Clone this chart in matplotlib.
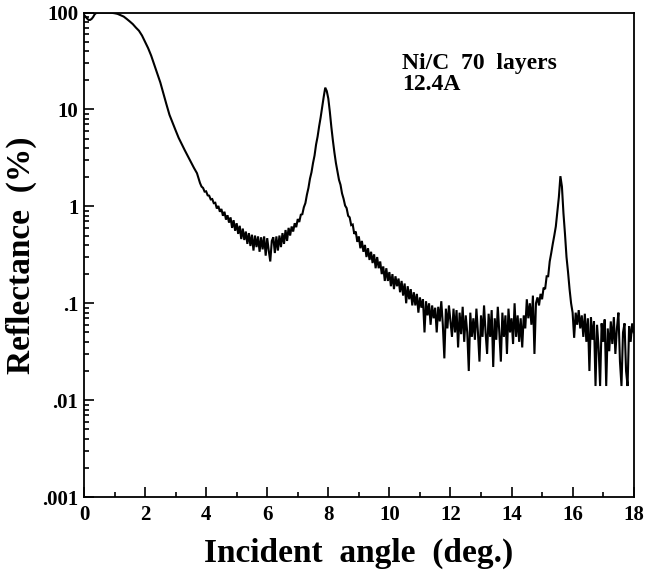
import matplotlib
matplotlib.use("Agg")
import matplotlib.pyplot as plt
from matplotlib.ticker import FixedLocator, FixedFormatter, LogLocator, NullFormatter, MultipleLocator

# ── data ─────────────────────────────────────────────────────────────────────
# total-reflection region and critical-angle fall-off (smooth part)
ANGLE_SMOOTH = [0.0, 0.05, 0.1, 0.15, 0.2, 0.25, 0.3, 0.35, 0.4, 0.5,
                0.6, 0.7, 0.8, 0.9, 1.0, 1.1, 1.2, 1.3, 1.4, 1.5,
                1.6, 1.7, 1.8, 1.9, 2.0, 2.1, 2.2, 2.3, 2.4, 2.5,
                2.6, 2.7, 2.8, 2.9, 3.0, 3.1, 3.2, 3.3, 3.4, 3.5,
                3.6, 3.7, 3.75]
REFL_SMOOTH = [95, 91, 87, 84, 84, 86, 90, 96, 99, 100,
               100, 100, 100, 99.5, 98.5, 97, 94, 91, 86, 81,
               76, 70, 65, 58, 50, 43, 36, 29, 23.5, 19,
               14.6, 11.3, 8.8, 7.3, 6.1, 5.1, 4.4, 3.8, 3.3, 2.85,
               2.5, 2.2, 1.95]

# noisy part of the scan: Bragg peaks and background
ANGLE_SCAN = [
    3.80, 3.85, 3.90, 3.95, 4.00, 4.05, 4.10, 4.15, 4.20, 4.25,
    4.30, 4.35, 4.40, 4.45, 4.50, 4.55, 4.60, 4.65, 4.70, 4.75,
    4.80, 4.85, 4.90, 4.95, 5.00, 5.05, 5.10, 5.15, 5.20, 5.25,
    5.30, 5.35, 5.40, 5.45, 5.50, 5.55, 5.60, 5.65, 5.70, 5.75,
    5.80, 5.85, 5.90, 5.95, 6.00, 6.05, 6.10, 6.15, 6.20, 6.25,
    6.30, 6.35, 6.40, 6.45, 6.50, 6.55, 6.60, 6.65, 6.70, 6.75,
    6.80, 6.85, 6.90, 6.95, 7.00, 7.05, 7.10, 7.15, 7.20, 7.25,
    7.30, 7.35, 7.40, 7.45, 7.50, 7.55, 7.60, 7.65, 7.70, 7.75,
    7.80, 7.85, 7.90, 7.95, 8.00, 8.05, 8.10, 8.15, 8.20, 8.25,
    8.30, 8.35, 8.40, 8.45, 8.50, 8.55, 8.60, 8.65, 8.70, 8.75,
    8.80, 8.85, 8.90, 8.95, 9.00, 9.05, 9.10, 9.15, 9.20, 9.25,
    9.30, 9.35, 9.40, 9.45, 9.50, 9.55, 9.60, 9.65, 9.70, 9.75,
    9.80, 9.85, 9.90, 9.95, 10.00, 10.05, 10.10, 10.15, 10.20, 10.25,
    10.30, 10.35, 10.40, 10.45, 10.50, 10.55, 10.60, 10.65, 10.70, 10.75,
    10.80, 10.85, 10.90, 10.95, 11.00, 11.05, 11.10, 11.15, 11.20, 11.25,
    11.30, 11.35, 11.40, 11.45, 11.50, 11.55, 11.60, 11.65, 11.70, 11.75,
    11.80, 11.85, 11.90, 11.95, 12.00, 12.05, 12.10, 12.15, 12.20, 12.25,
    12.30, 12.35, 12.40, 12.45, 12.50, 12.55, 12.60, 12.65, 12.70, 12.75,
    12.80, 12.85, 12.90, 12.95, 13.00, 13.05, 13.10, 13.15, 13.20, 13.25,
    13.30, 13.35, 13.40, 13.45, 13.50, 13.55, 13.60, 13.65, 13.70, 13.75,
    13.80, 13.85, 13.90, 13.95, 14.00, 14.05, 14.10, 14.15, 14.20, 14.25,
    14.30, 14.35, 14.40, 14.45, 14.50, 14.55, 14.60, 14.65, 14.70, 14.75,
    14.80, 14.85, 14.90, 14.95, 15.00, 15.05, 15.10, 15.15, 15.20, 15.25,
    15.30, 15.35, 15.40, 15.45, 15.50, 15.55, 15.60, 15.65, 15.70, 15.75,
    15.80, 15.85, 15.90, 15.95, 16.00, 16.05, 16.10, 16.15, 16.20, 16.25,
    16.30, 16.35, 16.40, 16.45, 16.50, 16.55, 16.60, 16.65, 16.70, 16.75,
    16.80, 16.85, 16.90, 16.95, 17.00, 17.05, 17.10, 17.15, 17.20, 17.25,
    17.30, 17.35, 17.40, 17.45, 17.50, 17.55, 17.60, 17.65, 17.70, 17.75,
    17.80, 17.85, 17.90, 17.95, 18.00,
]
REFL_SCAN = [
    1.74, 1.60, 1.55, 1.42, 1.43, 1.30, 1.29, 1.18, 1.19, 1.08,
    1.09, 0.95, 1.01, 0.88, 0.94, 0.80, 0.88, 0.73, 0.81, 0.68,
    0.77, 0.60, 0.72, 0.56, 0.67, 0.52, 0.63, 0.46, 0.59, 0.45,
    0.55, 0.41, 0.53, 0.39, 0.51, 0.35, 0.50, 0.38, 0.49, 0.34,
    0.48, 0.36, 0.49, 0.31, 0.47, 0.35, 0.27, 0.44, 0.48, 0.33,
    0.49, 0.35, 0.50, 0.38, 0.53, 0.41, 0.57, 0.44, 0.60, 0.50,
    0.62, 0.55, 0.67, 0.61, 0.74, 0.69, 0.82, 0.83, 0.98, 1.08,
    1.32, 1.55, 1.93, 2.25, 2.80, 3.35, 4.35, 5.25, 6.70, 8.30,
    10.6, 13.5, 16.8, 15.5, 13.0, 9.5, 6.6, 4.8, 3.6, 2.8,
    2.30, 1.88, 1.67, 1.36, 1.20, 1.02, 0.96, 0.80, 0.77, 0.64,
    0.65, 0.52, 0.55, 0.43, 0.49, 0.37, 0.44, 0.34, 0.40, 0.30,
    0.37, 0.28, 0.34, 0.26, 0.32, 0.23, 0.30, 0.23, 0.27, 0.20,
    0.24, 0.17, 0.23, 0.17, 0.21, 0.15, 0.20, 0.14, 0.19, 0.15,
    0.18, 0.13, 0.17, 0.12, 0.16, 0.10, 0.15, 0.11, 0.14, 0.095,
    0.13, 0.095, 0.125, 0.08, 0.115, 0.09, 0.11, 0.05, 0.105, 0.075,
    0.10, 0.06, 0.095, 0.07, 0.09, 0.05, 0.092, 0.065, 0.105, 0.06,
    0.027, 0.088, 0.055, 0.095, 0.065, 0.045, 0.088, 0.05, 0.085, 0.035,
    0.08, 0.048, 0.092, 0.04, 0.075, 0.05, 0.02, 0.08, 0.045, 0.07,
    0.042, 0.088, 0.05, 0.025, 0.075, 0.045, 0.095, 0.05, 0.03, 0.078,
    0.045, 0.085, 0.022, 0.07, 0.042, 0.092, 0.05, 0.025, 0.08, 0.045,
    0.075, 0.03, 0.088, 0.05, 0.07, 0.038, 0.10, 0.045, 0.075, 0.04,
    0.07, 0.035, 0.075, 0.055, 0.11, 0.07, 0.10, 0.06, 0.12, 0.03,
    0.10, 0.115, 0.095, 0.125, 0.11, 0.145, 0.14, 0.19, 0.19, 0.27,
    0.33, 0.41, 0.50, 0.62, 0.88, 1.25, 2.05, 1.60, 0.85, 0.52,
    0.30, 0.21, 0.14, 0.10, 0.08, 0.044, 0.08, 0.06, 0.085, 0.055,
    0.075, 0.045, 0.078, 0.04, 0.07, 0.02, 0.072, 0.042, 0.065, 0.014,
    0.06, 0.035, 0.014, 0.062, 0.04, 0.068, 0.014, 0.055, 0.032, 0.065,
    0.038, 0.072, 0.03, 0.055, 0.08, 0.025, 0.014, 0.05, 0.062, 0.02,
    0.014, 0.058, 0.04, 0.062, 0.05,
]

Y_TICKS  = [0.001, 0.01, 0.1, 1, 10, 100]
Y_LABELS = [".001", ".01", ".1", "1", "10", "100"]
X_TICKS  = [0, 2, 4, 6, 8, 10, 12, 14, 16, 18]
SAMPLE   = "Ni/C  70  layers\n12.4A"

# ── figure ───────────────────────────────────────────────────────────────────
plt.rcParams["font.family"] = ["Liberation Serif", "DejaVu Serif"]
plt.rcParams["font.weight"] = "bold"

fig = plt.figure(figsize=(6.56, 5.72), dpi=100)
ax = fig.add_axes([0.128, 0.131, 0.838, 0.847])

ax.plot(ANGLE_SMOOTH + ANGLE_SCAN, REFL_SMOOTH + REFL_SCAN,
        color="black", lw=1.5, solid_joinstyle="miter")

ax.set_yscale("log")
ax.set_xlim(0, 18)
ax.set_ylim(0.001, 100)

ax.yaxis.set_major_locator(FixedLocator(Y_TICKS))
ax.yaxis.set_major_formatter(FixedFormatter(Y_LABELS))
ax.yaxis.set_minor_locator(LogLocator(base=10, subs=range(2, 10)))
ax.yaxis.set_minor_formatter(NullFormatter())
ax.xaxis.set_major_locator(FixedLocator(X_TICKS))
ax.xaxis.set_minor_locator(MultipleLocator(1))

ax.tick_params(which="both", direction="in", top=False, right=False, width=1.2)
ax.tick_params(which="major", length=7, labelsize=15)
ax.tick_params(which="minor", length=3.5)
ax.tick_params(axis="x", which="major", pad=6)
ax.tick_params(axis="y", which="major", pad=4)
for lab in ax.get_xticklabels() + ax.get_yticklabels():
    lab.set_fontweight("bold")
for sp in ax.spines.values():
    sp.set_linewidth(1.3)

ax.set_xlabel("Incident  angle  (deg.)", fontsize=24, fontweight="bold", labelpad=9)
ax.set_ylabel("Reflectance  (%)", fontsize=24, fontweight="bold", labelpad=4)

ax.text(0.578, 0.917, SAMPLE, transform=ax.transAxes, ha="left", va="top",
        fontsize=17, fontweight="bold", linespacing=1.0)

fig.savefig("out.png", dpi=100)
